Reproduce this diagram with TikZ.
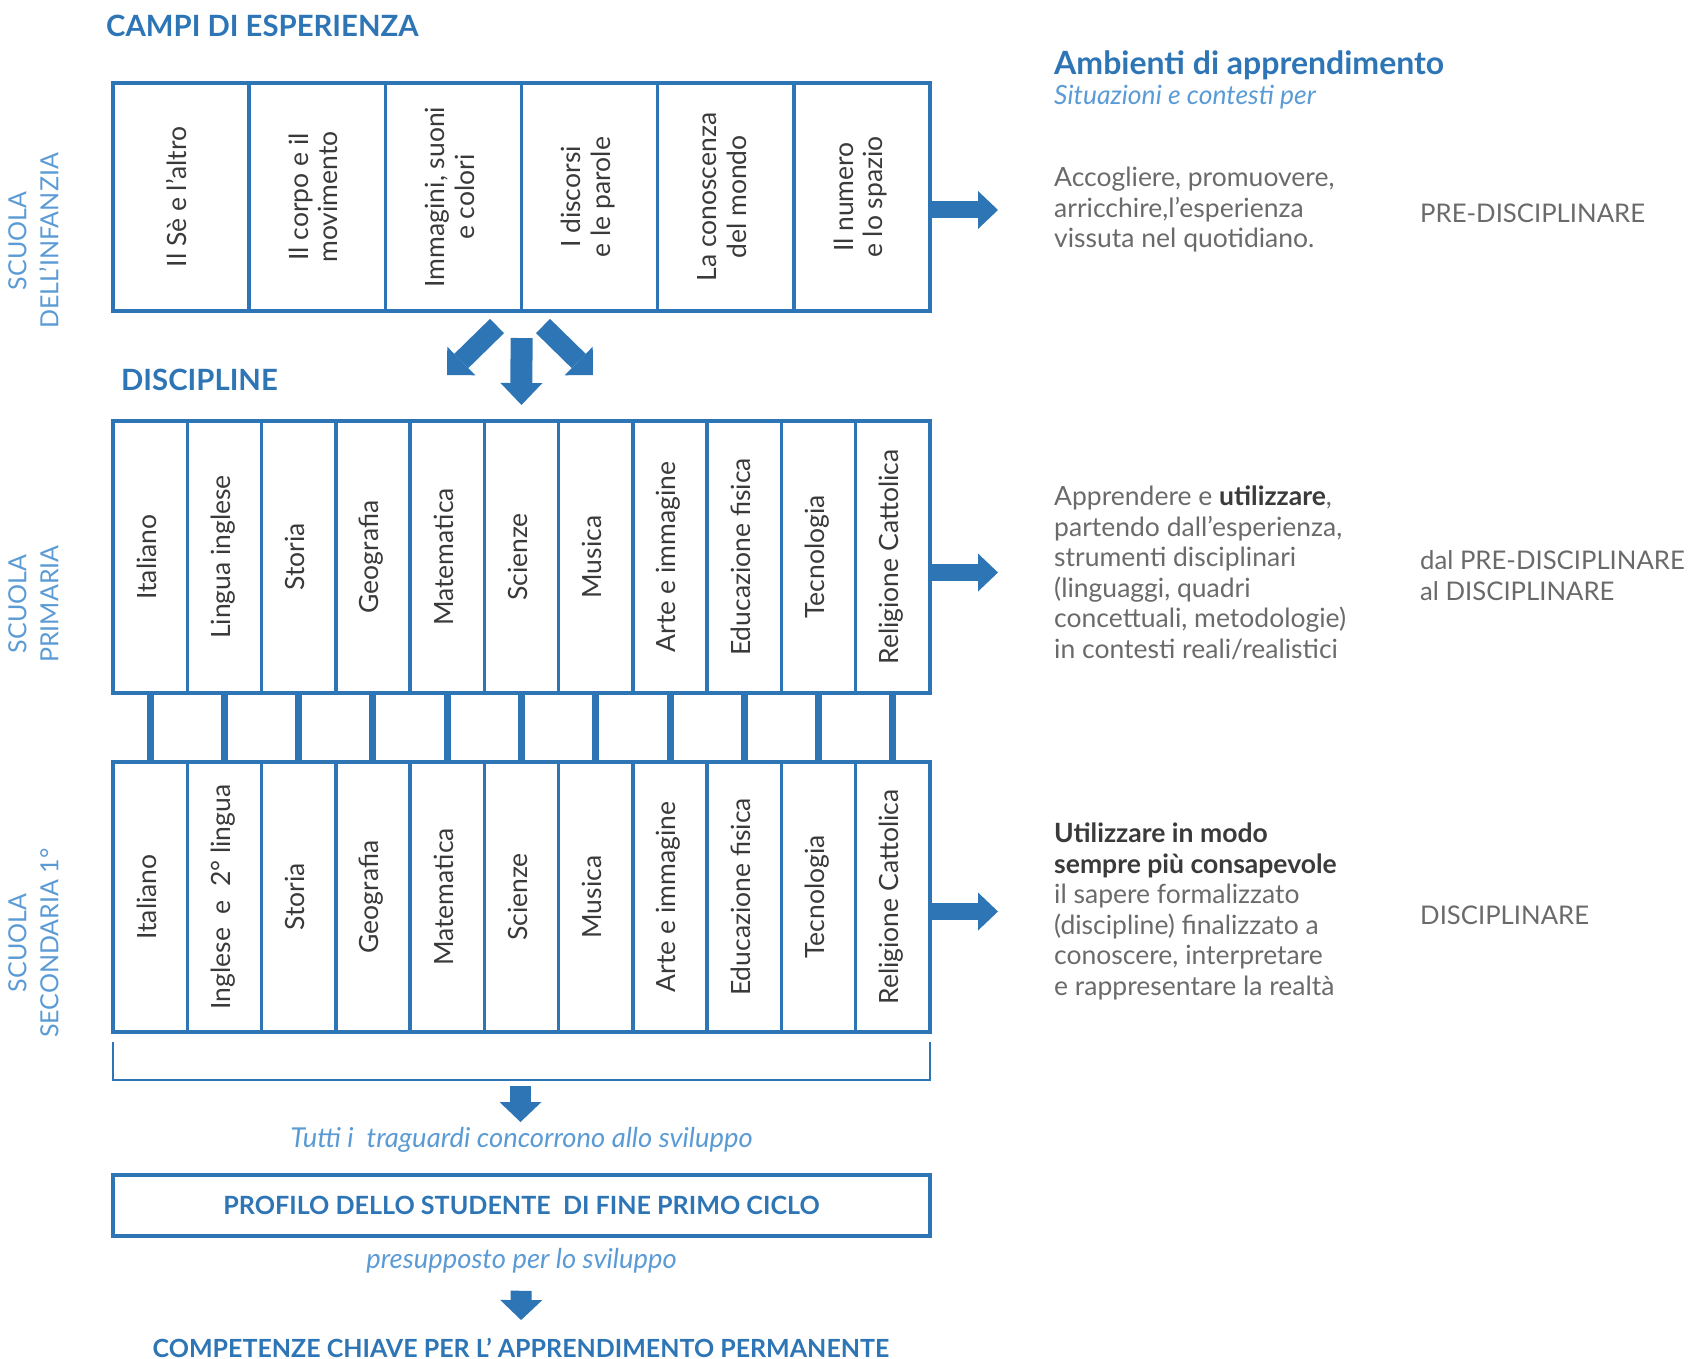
\documentclass[tikz,border=0pt]{standalone}
\usepackage{fontspec}
\setmainfont{Lato}
\usetikzlibrary{positioning,arrows.meta}
\definecolor{blu}{HTML}{2E75B6}
\definecolor{azzurro}{HTML}{5B9BD5}
\definecolor{grigio}{HTML}{6A6A6A}
\definecolor{scuro}{HTML}{3A3A3A}
\newcommand{\vtesto}[1]{\rotatebox{90}{\begin{tabular}{@{}c@{}}#1\end{tabular}}}
\newcommand{\evid}[1]{\textbf{\color{scuro}#1}}
\begin{document}
\begin{tikzpicture}[x=1pt, y=-1pt,
	campo/.style={draw=blu, line width=3.5pt, minimum width=136.17pt, minimum height=228pt, inner sep=0pt, outer sep=0pt, text=scuro, font=\fontsize{26.5}{29.5}\selectfont},
	materia/.style={campo, minimum width=74.27pt, minimum height=272pt},
	materia2/.style={materia, minimum height=270pt},
	legame/.style={draw=blu, line width=7pt},
	titolo/.style={text=blu, inner sep=0pt, font=\bfseries\fontsize{29.3}{36}\selectfont},
	scuola/.style={text=azzurro, inner sep=0pt, font=\fontsize{25}{32}\selectfont},
	testo/.style={text=grigio, inner sep=0pt, align=left, font=\fontsize{26.5}{30.5}\selectfont},
	etichetta/.style={text=grigio, inner sep=0pt, align=left, font=\fontsize{25.7}{30.5}\selectfont},
	nota/.style={text=azzurro, inner sep=0pt, font=\itshape\fontsize{27.4}{30}\selectfont},
	frecciadx/.style={draw=blu, line width=17pt, -{Triangle[width=38pt, length=20pt, line width=0pt]}},
	frecciagiu/.style={draw=blu, line width=21pt, -{Triangle[width=42pt, length=20pt, line width=0pt]}},
	parentesi/.style={draw=blu, line width=2pt}]
	\useasboundingbox (0,0) rectangle (1689,1359);

	% campi di esperienza
	\node[titolo, anchor=west] (campi) at (106,26) {CAMPI DI ESPERIENZA};
	\node[campo] at (181.08,197) (c1) {\vtesto{Il Sè e l'altro}};
	\node[campo, right=0pt of c1] (c2) {\vtesto{Il corpo e il\\movimento}};
	\node[campo, right=0pt of c2] (c3) {\vtesto{Immagini, suoni\\e colori}};
	\node[campo, right=0pt of c3] (c4) {\vtesto{I discorsi\\e le parole}};
	\node[campo, right=0pt of c4] (c5) {\vtesto{La conoscenza\\del mondo}};
	\node[campo, right=0pt of c5] (c6) {\vtesto{Il numero\\e lo spazio}};

	% discipline primaria
	\node[titolo, anchor=west] (discipline) at (121,380) {DISCIPLINE};
	\node[materia] at (150.13,557) (p1) {\vtesto{Italiano}};
	\node[materia, right=0pt of p1] (p2) {\vtesto{Lingua inglese}};
	\node[materia, right=0pt of p2] (p3) {\vtesto{Storia}};
	\node[materia, right=0pt of p3] (p4) {\vtesto{Geografia}};
	\node[materia, right=0pt of p4] (p5) {\vtesto{Matematica}};
	\node[materia, right=0pt of p5] (p6) {\vtesto{Scienze}};
	\node[materia, right=0pt of p6] (p7) {\vtesto{Musica}};
	\node[materia, right=0pt of p7] (p8) {\vtesto{Arte e immagine}};
	\node[materia, right=0pt of p8] (p9) {\vtesto{Educazione fisica}};
	\node[materia, right=0pt of p9] (p10) {\vtesto{Tecnologia}};
	\node[materia, right=0pt of p10] (p11) {\vtesto{Religione Cattolica}};

	% discipline secondaria
	\node[materia2] at (150.13,897) (s1) {\vtesto{Italiano}};
	\node[materia2, right=0pt of s1] (s2) {\vtesto{Inglese\ \ e\ \ 2° lingua}};
	\node[materia2, right=0pt of s2] (s3) {\vtesto{Storia}};
	\node[materia2, right=0pt of s3] (s4) {\vtesto{Geografia}};
	\node[materia2, right=0pt of s4] (s5) {\vtesto{Matematica}};
	\node[materia2, right=0pt of s5] (s6) {\vtesto{Scienze}};
	\node[materia2, right=0pt of s6] (s7) {\vtesto{Musica}};
	\node[materia2, right=0pt of s7] (s8) {\vtesto{Arte e immagine}};
	\node[materia2, right=0pt of s8] (s9) {\vtesto{Educazione fisica}};
	\node[materia2, right=0pt of s9] (s10) {\vtesto{Tecnologia}};
	\node[materia2, right=0pt of s10] (s11) {\vtesto{Religione Cattolica}};
	\draw[legame]
	(p1)--(s1) (p2)--(s2) (p3)--(s3) (p4)--(s4) (p5)--(s5) (p6)--(s6)
	(p7)--(s7) (p8)--(s8) (p9)--(s9) (p10)--(s10) (p11)--(s11);

	% ordini di scuola
	\node[scuola] at (36,241) (infanzia) {\vtesto{SCUOLA\\DELL'INFANZIA}};
	\node[scuola] at (36,604) (primaria) {\vtesto{SCUOLA\\PRIMARIA}};
	\node[scuola] at (36,943) (secondaria) {\vtesto{SCUOLA\\SECONDARIA 1°}};

	% dai campi alle discipline
	\coordinate (sx1) at (497,326);
	\coordinate (sx2) at (447,375);
	\coordinate (dx1) at (543,326);
	\coordinate (dx2) at (593,375);
	\draw[frecciagiu, line width=20pt, -{Triangle[width=40pt, length=20pt, line width=0pt]}] (sx1)--(sx2);
	\draw[frecciagiu, line width=20pt, -{Triangle[width=40pt, length=20pt, line width=0pt]}] (dx1)--(dx2);
	\draw[frecciagiu, line width=22pt, -{Triangle[width=42pt, length=22pt, line width=0pt]}, shorten <=27pt, shorten >=16pt] (c3.south east)--(p6.north);

	% ambienti di apprendimento
	\node[titolo, anchor=west, font=\bfseries\fontsize{32}{36}\selectfont] (ambienti) at (1054,65) {Ambienti di apprendimento};
	\node[nota, anchor=west, font=\itshape\fontsize{26.5}{30}\selectfont] (situazioni) at (1054,97) {Situazioni e contesti per};
	\node[testo, anchor=west] (t1) at (1054,210) {Accogliere, promuovere,\\arricchire,l'esperienza\\vissuta nel quotidiano.};
	\node[testo, anchor=west] (t2) at (1054,572.5) {Apprendere e \evid{utilizzare},\\partendo dall'esperienza,\\strumenti disciplinari\\(linguaggi, quadri\\concettuali, metodologie)\\in contesti reali/realistici};
	\node[testo, anchor=west] (t3) at (1054,911.5) {\evid{Utilizzare in modo}\\\evid{sempre più consapevole}\\il sapere formalizzato\\(discipline) finalizzato a\\conoscere, interpretare\\e rappresentare la realtà};
	\node[etichetta, anchor=west] (l1) at (1420,213) {PRE-DISCIPLINARE};
	\node[etichetta, anchor=west] (l2) at (1420,575.5) {dal PRE-DISCIPLINARE\\al DISCIPLINARE};
	\node[etichetta, anchor=west] (l3) at (1420,915) {DISCIPLINARE};
	\draw[frecciadx, shorten >=56pt] (c6.east |- t1.west)--(t1.west);
	\draw[frecciadx, shorten >=56pt] (p11.east |- t2.west)--(t2.west);
	\draw[frecciadx, shorten >=56pt] (s11.east |- t3.west)--(t3.west);

	% profilo e competenze
	\draw[parentesi] ([yshift=-10pt]s1.south west) -- ++(0,38) -| ([yshift=-10pt]s11.south east);
	\coordinate (g1) at (520.5,1086);
	\coordinate (g2) at (520.5,1122);
	\draw[frecciagiu] (g1)--(g2);
	\node[nota] (tutti) at (521.5,1140) {Tutti i\ \ traguardi concorrono allo sviluppo};
	\node[draw=blu, line width=3.5pt, minimum width=817pt, minimum height=61pt, text=blu, font=\bfseries\fontsize{25.1}{28}\selectfont] (profilo) at (521.5,1205.5) {PROFILO DELLO STUDENTE\ \ DI FINE PRIMO CICLO};
	\node[nota] (presupposto) at (521.5,1261) {presupposto per lo sviluppo};
	\node[titolo, font=\bfseries\fontsize{25}{30}\selectfont] (competenze) at (521,1348) {COMPETENZE CHIAVE PER L' APPRENDIMENTO PERMANENTE};
	\draw[frecciagiu, shorten <=53pt, shorten >=18pt] (profilo.south)--(competenze.north);
\end{tikzpicture}
\end{document}
